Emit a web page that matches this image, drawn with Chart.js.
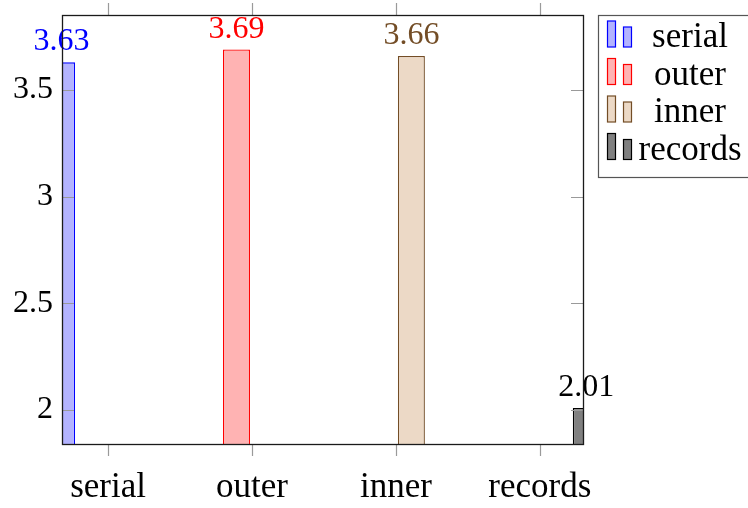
<!DOCTYPE html>
<html>
<head>
<meta charset="utf-8">
<script src="https://cdn.jsdelivr.net/npm/chart.js@4.4.1/dist/chart.umd.min.js"></script>
<style>
  html, body { margin: 0; padding: 0; background: #ffffff; }
  #wrap { width: 748px; height: 508px; position: relative; }
</style>
</head>
<body>
<div id="wrap"><canvas id="chart" width="748" height="508"></canvas></div>
<script>
// Categories along the x axis, and one series per category
const categories = ['serial', 'outer', 'inner', 'records'];
const seriesNames = ['serial', 'outer', 'inner', 'records'];
const seriesValues = [3.63, 3.69, 3.66, 2.01];
const yTicks = [2, 2.5, 3, 3.5];

// Stroke / fill per series
const strokeColors = ['#0000ff', '#ff0000', '#734d26', '#000000'];
const fillColors = ['#b3b3ff', '#ffb3b3', '#ecd9c6', '#808080'];

const SERIF = "'Liberation Serif', 'DejaVu Serif', serif";

// Keep a slot for every series in each group, even where a series has no bar,
// so every bar sits at its fixed shift within the group.
const baseGetStacks = Chart.BarController.prototype._getStacks;
Chart.BarController.prototype._getStacks = function (last) {
  return baseGetStacks.call(this, last, undefined);
};

const datasets = seriesNames.map((name, i) => ({
  label: name,
  stack: name,
  data: [{ x: i, y: seriesValues[i] }],
  backgroundColor: fillColors[i],
  borderColor: strokeColors[i],
  borderWidth: 1.3,
  borderSkipped: 'start',
  clip: 0
}));

// Inward/outward tick marks and the axis box
const frameTicks = {
  id: 'frameTicks',
  afterDatasetsDraw(chart) {
    const { ctx, chartArea: a, scales } = chart;
    ctx.save();
    ctx.strokeStyle = '#9a9a9a';
    ctx.lineWidth = 1.2;
    ctx.beginPath();
    yTicks.forEach(v => {
      const y = Math.round(scales.y.getPixelForValue(v)) + 0.5;
      ctx.moveTo(a.left, y); ctx.lineTo(a.left + 12, y);
      ctx.moveTo(a.right, y); ctx.lineTo(a.right - 12, y);
    });
    categories.forEach((c, i) => {
      const x = Math.round(scales.x.getPixelForValue(i)) + 0.5;
      ctx.moveTo(x, a.bottom); ctx.lineTo(x, a.bottom + 12);
      ctx.moveTo(x, a.top); ctx.lineTo(x, a.top - 12);
    });
    ctx.stroke();
    ctx.restore();
  },
  afterDraw(chart) {
    const { ctx, chartArea: a } = chart;
    ctx.save();
    ctx.strokeStyle = '#1a1a1a';
    ctx.lineWidth = 1.3;
    ctx.strokeRect(Math.round(a.left) + 0.5, Math.round(a.top) + 0.5,
                   Math.round(a.right - a.left), Math.round(a.bottom - a.top));
    ctx.restore();
  }
};

// Value labels above each bar
const valueLabels = {
  id: 'valueLabels',
  afterDatasetsDraw(chart) {
    const { ctx } = chart;
    ctx.save();
    ctx.font = '32px ' + SERIF;
    ctx.textAlign = 'center';
    ctx.textBaseline = 'alphabetic';
    chart.data.datasets.forEach((ds, di) => {
      const meta = chart.getDatasetMeta(di);
      meta.data.forEach((bar, j) => {
        ctx.fillStyle = strokeColors[di];
        ctx.fillText(ds.data[j].y.toFixed(2), bar.x, bar.y - 12);
      });
    });
    ctx.restore();
  }
};

// Legend box with double-bar symbols
const barLegend = {
  id: 'barLegend',
  afterDraw(chart) {
    const { ctx } = chart;
    const boxX = 598, boxY = 15, boxW = 160, boxH = 162;
    ctx.save();
    ctx.fillStyle = '#ffffff';
    ctx.fillRect(boxX, boxY, boxW, boxH);
    ctx.strokeStyle = '#555555';
    ctx.lineWidth = 1.2;
    ctx.strokeRect(boxX + 0.5, boxY + 0.5, boxW, boxH);
    ctx.font = '35px ' + SERIF;
    ctx.textAlign = 'center';
    ctx.textBaseline = 'alphabetic';
    chart.data.datasets.forEach((ds, i) => {
      const base = 47 + i * 37.5;
      ctx.fillStyle = fillColors[i];
      ctx.strokeStyle = strokeColors[i];
      ctx.lineWidth = 1.2;
      ctx.fillRect(607, base - 26, 8, 26);
      ctx.strokeRect(607.5, base - 26, 8, 26);
      ctx.fillRect(623, base - 20, 8, 20);
      ctx.strokeRect(623.5, base - 20, 8, 20);
      ctx.fillStyle = '#000000';
      ctx.fillText(ds.label, 690, base);
    });
    ctx.restore();
  }
};

const noEdgePadding = s => {
  s.paddingTop = 0; s.paddingBottom = 0; s.paddingLeft = 0; s.paddingRight = 0;
};

new Chart(document.getElementById('chart'), {
  type: 'bar',
  data: { datasets },
  options: {
    responsive: false,
    animation: false,
    devicePixelRatio: 1,
    categoryPercentage: 0.861,
    barPercentage: 0.871,
    layout: { padding: { left: 0, top: 15, right: 165, bottom: 0 } },
    plugins: { legend: { display: false }, tooltip: { enabled: false } },
    scales: {
      x: {
        type: 'linear',
        offset: false,
        min: -0.32,
        max: 3.3,
        afterBuildTicks: s => { s.ticks = categories.map((c, i) => ({ value: i })); },
        afterFit: s => { s.height = 64; noEdgePadding(s); },
        grid: { display: false, drawTicks: false, offset: false },
        border: { display: false },
        ticks: {
          autoSkip: false,
          maxRotation: 0,
          padding: 23,
          color: '#000000',
          font: { family: SERIF, size: 35 },
          callback: (v, idx) => categories[idx]
        }
      },
      y: {
        type: 'linear',
        min: 1.841,
        max: 3.852,
        afterBuildTicks: s => { s.ticks = yTicks.map(v => ({ value: v })); },
        afterFit: s => { s.width = 62; noEdgePadding(s); },
        grid: { display: false, drawTicks: false },
        border: { display: false },
        ticks: {
          padding: 9,
          color: '#000000',
          font: { family: SERIF, size: 32 },
          callback: v => String(v)
        }
      }
    }
  },
  plugins: [frameTicks, valueLabels, barLegend]
});
</script>
</body>
</html>
